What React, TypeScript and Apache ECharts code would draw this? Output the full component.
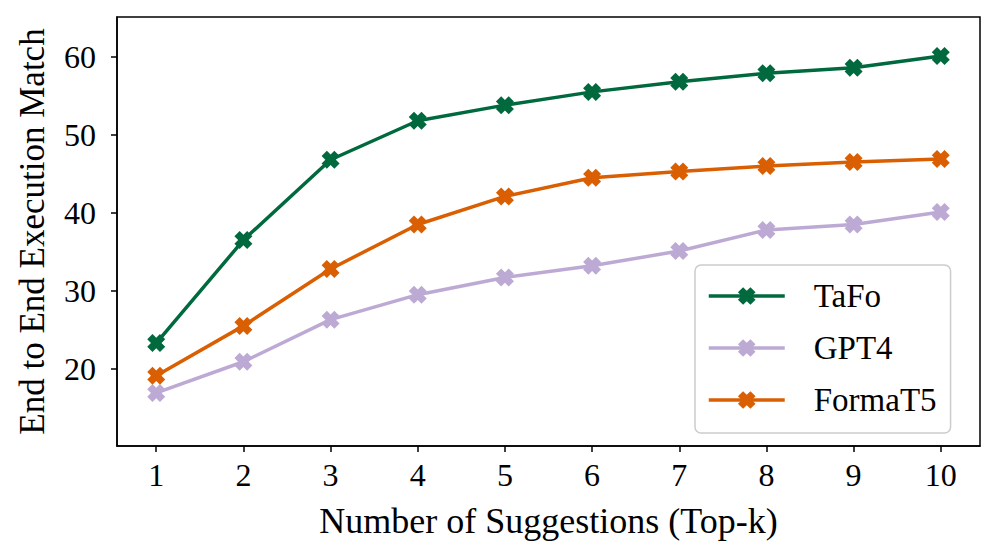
import React, { useEffect, useRef } from "react";
import * as echarts from "echarts";

const topK = [1, 2, 3, 4, 5, 6, 7, 8, 9, 10];
const tafo = [23.3, 36.5, 46.8, 51.8, 53.8, 55.5, 56.8, 57.9, 58.6, 60.1];
const gpt4 = [16.9, 20.9, 26.3, 29.5, 31.7, 33.2, 35.1, 37.8, 38.5, 40.1];
const formaT5 = [19.1, 25.5, 32.8, 38.5, 42.1, 44.5, 45.3, 46.0, 46.5, 46.9];
const yTicks = [20, 30, 40, 50, 60];

const FONT = "Liberation Serif";
const XMARK = "path://M0,3.5 L3.5,0 L6,2.5 L8.5,0 L12,3.5 L9.5,6 L12,8.5 L8.5,12 L6,9.5 L3.5,12 L0,8.5 L2.5,6 Z";

function pairs(ys: number[]) {
  return topK.map((x, i) => [x, ys[i]]);
}

export default function App() {
  const ref = useRef<HTMLDivElement>(null);
  useEffect(() => {
    const chart = echarts.init(ref.current!, null, { renderer: "svg" });
    const mk = (name: string, data: number[], color: string) => ({
      name,
      type: "line",
      data: pairs(data),
      symbol: XMARK,
      symbolSize: 18,
      lineStyle: { color, width: 3.5 },
      itemStyle: { color },
      color,
    });
    chart.setOption({
      animation: false,
      backgroundColor: "#fff",
      grid: {
        left: 117,
        top: 17,
        right: 16,
        bottom: 113,
        show: true,
        borderColor: "#000",
        borderWidth: 1.5,
        containLabel: false,
      },
      xAxis: {
        type: "value",
        min: 0.55,
        max: 10.45,
        name: "Number of Suggestions (Top-k)",
        nameLocation: "middle",
        nameGap: 57,
        nameTextStyle: { fontFamily: FONT, fontSize: 36, color: "#000" },
        axisLine: { show: true, lineStyle: { color: "#000", width: 1.5 } },
        axisTick: { show: true, customValues: topK, length: 6, lineStyle: { color: "#000", width: 1.5 } },
        axisLabel: { customValues: topK, fontFamily: FONT, fontSize: 32, color: "#000", margin: 13 },
        splitLine: { show: false },
      },
      yAxis: {
        type: "value",
        min: 10.1,
        max: 65.1,
        name: "End to End Execution Match",
        nameLocation: "middle",
        nameGap: 67,
        nameTextStyle: { fontFamily: FONT, fontSize: 35, color: "#000" },
        axisLine: { show: true, lineStyle: { color: "#000", width: 1.5 } },
        axisTick: { show: true, customValues: yTicks, length: 6, lineStyle: { color: "#000", width: 1.5 } },
        axisLabel: { customValues: yTicks, fontFamily: FONT, fontSize: 32, color: "#000", margin: 21 },
        splitLine: { show: false },
      },
      legend: {
        orient: "vertical",
        left: 695,
        top: 265,
        padding: [14, 14, 16, 12],
        itemWidth: 76,
        itemHeight: 22,
        itemGap: 18,
        backgroundColor: "#fff",
        borderColor: "#cccccc",
        borderWidth: 1.5,
        borderRadius: 6,
        lineStyle: { width: 3.5 },
        textStyle: { fontFamily: FONT, fontSize: 33, color: "#000", padding: [0, 0, 0, 24], lineHeight: 34 },
        data: ["TaFo", "GPT4", "FormaT5"],
      },
      series: [
        mk("TaFo", tafo, "#00693e"),
        mk("GPT4", gpt4, "#bdaad4"),
        mk("FormaT5", formaT5, "#d95f02"),
      ],
    });
    return () => chart.dispose();
  }, []);
  return <div ref={ref} style={{ position: "fixed", left: 0, top: 0, width: 996, height: 559 }} />;
}
